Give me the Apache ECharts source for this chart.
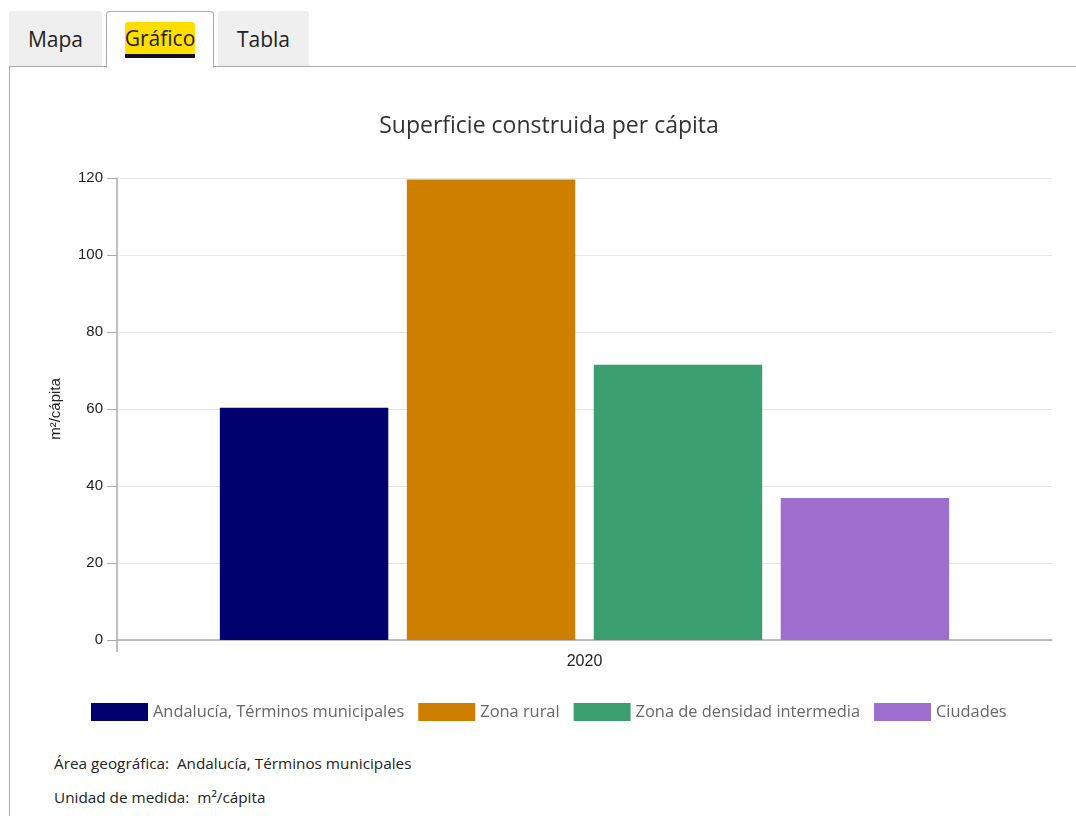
<!DOCTYPE html>
<html>
<head>
<meta charset="utf-8">
<script src="https://cdn.jsdelivr.net/npm/echarts@6/dist/echarts.min.js"></script>
<style>
  html, body { margin: 0; padding: 0; background: #fff; width: 1076px; height: 816px; overflow: hidden; font-family: "Open Sans", sans-serif; }
  .tab { position: absolute; top: 11px; height: 55px; box-sizing: border-box; font-size: 21px; color: #222; text-align: center; line-height: 56px; border-radius: 4px 4px 0 0; }
  .inactive { background: #efefef; }
  .active { background: #fff; border: 1px solid #aaa; border-bottom: none; height: 57px; z-index: 2; }
  .hl { display: inline-block; background: #ffde00; line-height: 32px; height: 32px; border-radius: 3px 3px 0 0; border-bottom: 4px solid #111; padding: 0; vertical-align: top; margin-top: 10px; }
  #panel { position: absolute; left: 9px; top: 66px; width: 1100px; height: 800px; border-top: 1px solid #aaa; border-left: 1px solid #aaa; box-sizing: border-box; }
  .foot { position: absolute; left: 54px; font-size: 15.3px; color: #222; }
  #chart { position: absolute; left: 0; top: 0; width: 1076px; height: 816px; z-index: 3; }
</style>
</head>
<body>
<div id="panel"></div>
<div class="tab inactive" style="left:9px;width:93px;">Mapa</div>
<div class="tab active" style="left:106px;width:108px;"><span class="hl">Gráfico</span></div>
<div class="tab inactive" style="left:218px;width:91px;">Tabla</div>
<div class="foot" style="top:753px;">Área geográfica:&nbsp; Andalucía, Términos municipales</div>
<div class="foot" style="top:787px;">Unidad de medida:&nbsp; m²/cápita</div>
<div id="chart"></div>
<script>
const categories = ['2020'];
const seriesNames = ['Andalucía, Términos municipales', 'Zona rural', 'Zona de densidad intermedia', 'Ciudades'];
const andaluciaValues = [60.3];
const ruralValues = [119.6];
const intermediaValues = [71.5];
const ciudadesValues = [36.9];
const seriesColors = ['#00006e', '#cf7f00', '#3b9e6e', '#9e6fcf'];
const yTicks = { min: 0, max: 120, interval: 20 };

const valueLists = [andaluciaValues, ruralValues, intermediaValues, ciudadesValues];

const chart = echarts.init(document.getElementById('chart'), null, { renderer: 'canvas' });
chart.setOption({
  animation: false,
  title: {
    text: 'Superficie construida per cápita',
    left: 544, textAlign: 'center', top: 110,
    textStyle: { fontFamily: 'Open Sans', fontSize: 23, fontWeight: 'normal', color: '#333' }
  },
  legend: {
    top: 698, left: 86,
    itemWidth: 57, itemHeight: 18, itemGap: 14,
    icon: 'rect',
    textStyle: { fontFamily: 'Open Sans', fontSize: 16.4, color: '#666' },
    data: seriesNames
  },
  grid: { left: 117, right: 24, top: 178, bottom: 176, containLabel: false },
  xAxis: {
    type: 'category', data: categories,
    axisLine: { lineStyle: { color: '#aaa', width: 1.5 } },
    axisTick: { show: false },
    axisLabel: { fontFamily: 'Liberation Sans', fontSize: 16, color: '#222', margin: 14 }
  },
  yAxis: {
    type: 'value', min: yTicks.min, max: yTicks.max, interval: yTicks.interval,
    name: 'm²/cápita', nameLocation: 'middle', nameGap: 54, nameRotate: 90,
    nameTextStyle: { fontFamily: 'Liberation Sans', fontSize: 15, color: '#222' },
    axisLine: { show: true, lineStyle: { color: '#aaa', width: 1.5 } },
    axisTick: { show: true, length: 10, lineStyle: { color: '#aaa' } },
    axisLabel: { fontFamily: 'Liberation Sans', fontSize: 15, color: '#222', margin: 14 },
    splitLine: { lineStyle: { color: '#e6e6e6' } }
  },
  series: seriesNames.map((name, i) => ({
    name, type: 'bar', data: valueLists[i],
    barGap: '11%', barCategoryGap: '22%',
    itemStyle: { color: seriesColors[i] }
  }))
});

// small boundary tick below the x-axis start, placed from the grid's computed rect
const gridRect = chart.getModel().getComponent('grid').coordinateSystem.getRect();
chart.setOption({
  graphic: [{
    type: 'line', silent: true,
    shape: { x1: gridRect.x, y1: gridRect.y + gridRect.height, x2: gridRect.x, y2: gridRect.y + gridRect.height + 12 },
    style: { stroke: '#aaa', lineWidth: 1.5 }
  }]
});
</script>
</body>
</html>
